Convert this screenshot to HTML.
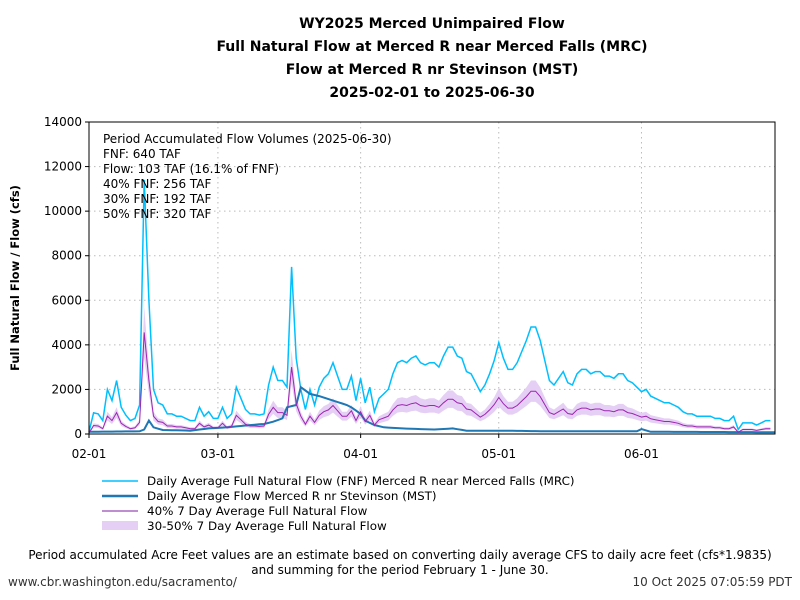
<!DOCTYPE html>
<html><head><meta charset="utf-8"><style>
body{margin:0;background:#fff;}
svg{display:block;font-family:"DejaVu Sans","Liberation Sans",sans-serif;}
</style></head><body>
<svg id="s" width="800" height="600" xmlns="http://www.w3.org/2000/svg">
<rect width="800" height="600" fill="#fff"/>
<g font-weight="bold" font-size="14" text-anchor="middle" fill="#000">
<text x="432" y="28">WY2025 Merced Unimpaired Flow</text>
<text x="432" y="51">Full Natural Flow at Merced R near Merced Falls (MRC)</text>
<text x="432" y="74">Flow at Merced R nr Stevinson (MST)</text>
<text x="432" y="97">2025-02-01 to 2025-06-30</text>
</g>
<g id="grid" stroke="#bbb" stroke-width="1" stroke-dasharray="1.5,3.5"></g>
<g id="data"></g>
<rect x="89" y="122" width="686" height="312" fill="none" stroke="#000" stroke-width="1"/>
<g id="ticks" font-size="12" fill="#000"></g>
<text transform="translate(19,278) rotate(-90)" text-anchor="middle" font-size="11.5" font-weight="bold">Full Natural Flow / Flow (cfs)</text>
<g font-size="12" fill="#000">
<text x="103" y="143">Period Accumulated Flow Volumes (2025-06-30)</text>
<text x="103" y="158">FNF: 640 TAF</text>
<text x="103" y="173">Flow: 103 TAF (16.1% of FNF)</text>
<text x="103" y="188">40% FNF: 256 TAF</text>
<text x="103" y="203">30% FNF: 192 TAF</text>
<text x="103" y="218">50% FNF: 320 TAF</text>
</g>
<g font-size="11.9" fill="#000">
<line x1="102" y1="481" x2="138" y2="481" stroke="#00bfff" stroke-width="1.5"/>
<text x="147" y="485">Daily Average Full Natural Flow (FNF) Merced R near Merced Falls (MRC)</text>
<line x1="102" y1="496" x2="138" y2="496" stroke="#1f77b4" stroke-width="2.5"/>
<text x="147" y="500">Daily Average Flow Merced R nr Stevinson (MST)</text>
<line x1="102" y1="511" x2="138" y2="511" stroke="#7b1fa2" stroke-width="1"/>
<text x="147" y="515">40% 7 Day Average Full Natural Flow</text>
<rect x="102" y="521" width="36" height="9" fill="#e6cff5"/>
<text x="147" y="530">30-50% 7 Day Average Full Natural Flow</text>
</g>
<g font-size="12" fill="#000" text-anchor="middle">
<text x="400" y="559">Period accumulated Acre Feet values are an estimate based on converting daily average CFS to daily acre feet (cfs*1.9835)</text>
<text x="400" y="574">and summing for the period February 1 - June 30.</text>
</g>
<text x="8" y="586" font-size="12" fill="#333">www.cbr.washington.edu/sacramento/</text>
<text x="792" y="586" font-size="12" fill="#333" text-anchor="end">10 Oct 2025 07:05:59 PDT</text>
</svg>
<script>
var fnf=[100,950,900,600,2000,1500,2400,1200,850,600,700,1300,11400,6000,2000,1400,1300,900,900,800,800,700,600,600,1200,800,1000,700,700,1200,700,900,2100,1600,1100,900,900,850,900,2200,3000,2400,2400,2100,7500,3400,2000,1100,2000,1300,2100,2500,2700,3200,2600,2000,2000,2600,1500,2500,1400,2100,1000,1600,1800,2000,2700,3200,3300,3200,3400,3500,3200,3100,3200,3200,3000,3500,3900,3900,3500,3400,2800,2700,2300,1900,2200,2700,3300,4100,3400,2900,2900,3200,3700,4200,4800,4800,4200,3300,2400,2200,2500,2800,2300,2200,2700,2900,2900,2700,2800,2800,2600,2600,2500,2700,2700,2400,2300,2100,1900,2000,1700,1600,1500,1400,1400,1300,1200,1000,900,900,800,800,800,800,700,700,600,600,800,200,500,500,500,400,500,600,600];
var mstK=[[0,100],[11,120],[12,200],[13,600],[14,300],[16,180],[22,150],[26,250],[30,300],[35,400],[38,450],[40,550],[42,700],[43,1200],[45,1300],[46,2100],[48,1800],[50,1700],[53,1500],[56,1300],[57,1200],[59,900],[60,600],[62,400],[64,300],[68,250],[75,200],[79,250],[82,150],[90,150],[100,120],[119,120],[120,220],[122,100],[149,80]];
function interp(k,d){for(var i=0;i<k.length-1;i++){if(d>=k[i][0]&&d<=k[i+1][0]){var t=(d-k[i][0])/(k[i+1][0]-k[i][0]);return k[i][1]+t*(k[i+1][1]-k[i][1]);}}return k[k.length-1][1];}
function X(d){return 89+d*686/149;}
function Y(v){return 434-v*312/14000;}
var ns="http://www.w3.org/2000/svg";
function el(p,t,a,txt){var e=document.createElementNS(ns,t);for(var k in a)e.setAttribute(k,a[k]);if(txt)e.textContent=txt;document.getElementById(p).appendChild(e);return e;}
function line(arr){return arr.map(function(v,i){return (i?'L':'M')+X(i).toFixed(1)+','+Y(v).toFixed(1);}).join('');}
var xt=[[0,'02-01'],[28,'03-01'],[59,'04-01'],[89,'05-01'],[120,'06-01']];
xt.forEach(function(t){el('grid','line',{x1:X(t[0]),x2:X(t[0]),y1:122,y2:434});
el('ticks','line',{x1:X(t[0]),x2:X(t[0]),y1:434,y2:438,stroke:'#000'});
el('ticks','text',{x:X(t[0]),y:458,'text-anchor':'middle'},t[1]);});
for(var v=0;v<=14000;v+=2000){el('grid','line',{x1:89,x2:775,y1:Y(v),y2:Y(v)});
el('ticks','line',{x1:85,x2:89,y1:Y(v),y2:Y(v),stroke:'#000'});
el('ticks','text',{x:82,y:Y(v)+4,'text-anchor':'end'},String(v));}
var p40=fnf.map(function(v){return v*0.4;});
var up=fnf.map(function(v){return v*0.5;}),lo=fnf.map(function(v){return v*0.3;});
var band=line(up);for(var i=lo.length-1;i>=0;i--)band+='L'+X(i).toFixed(1)+','+Y(lo[i]).toFixed(1);band+='Z';
el('data','path',{d:band,fill:'#e6cff5',stroke:'none'});
el('data','path',{d:line(fnf),fill:'none',stroke:'#00bfff','stroke-width':1.5});
var mst=[];for(var d=0;d<150;d++)mst.push(interp(mstK,d));
el('data','path',{d:line(mst),fill:'none',stroke:'#1f77b4','stroke-width':2});
el('data','path',{d:line(p40),fill:'none',stroke:'#9c27b0','stroke-width':1});
</script>
</body></html>
